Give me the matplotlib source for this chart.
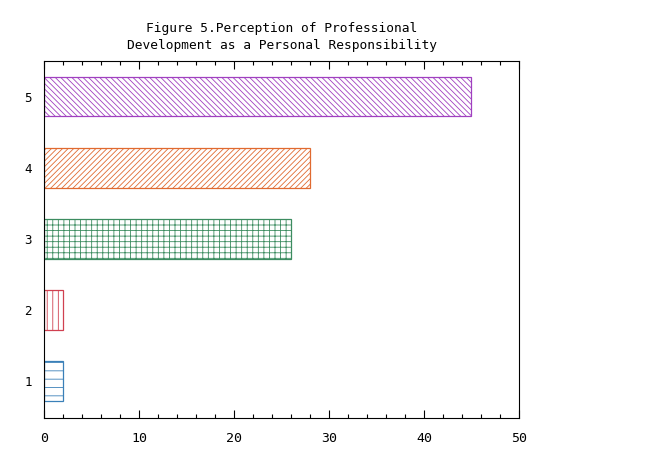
import numpy as np
import matplotlib.pyplot as plt
from matplotlib.ticker import MultipleLocator

categories = ['1', '2', '3', '4', '5']
values = [2, 2, 26, 28, 45]
hatches = ['--', '|||', '+++', '//////', '\\\\\\\\\\\\']
colors = ['#3a80b8', '#d04050', '#3c8c60', '#e06a30', '#a040c0']

plt.rcParams['font.family'] = 'DejaVu Sans Mono'
plt.rcParams['hatch.linewidth'] = 0.6

fig = plt.figure(figsize=(6.72, 4.5), dpi=100)
ax = fig.add_axes([0.0655, 0.0711, 0.7068, 0.7933])

ypos = np.arange(1, len(categories) + 1)
for y, v, h, c in zip(ypos, values, hatches, colors):
    ax.barh(y, v, height=0.56, color='none', edgecolor=c, hatch=h, linewidth=0.9)

ax.set_xlim(0, 50)
ax.set_ylim(0.48, 5.5)
ax.set_yticks(ypos)
ax.set_yticklabels(categories, fontsize=9)
ax.tick_params(axis='y', length=0, pad=9)
ax.xaxis.set_major_locator(MultipleLocator(10))
ax.xaxis.set_minor_locator(MultipleLocator(2))
ax.tick_params(axis='x', which='both', direction='in', top=True, labelsize=9.5, pad=10)
ax.tick_params(axis='x', which='major', length=6, width=0.8)
ax.tick_params(axis='x', which='minor', length=3, width=0.8)
for s in ax.spines.values():
    s.set_linewidth(0.8)

ax.set_title('Figure 5.Perception of Professional\nDevelopment as a Personal Responsibility',
             fontsize=9.3, linespacing=1.4, pad=9)

fig.savefig('out.png')
